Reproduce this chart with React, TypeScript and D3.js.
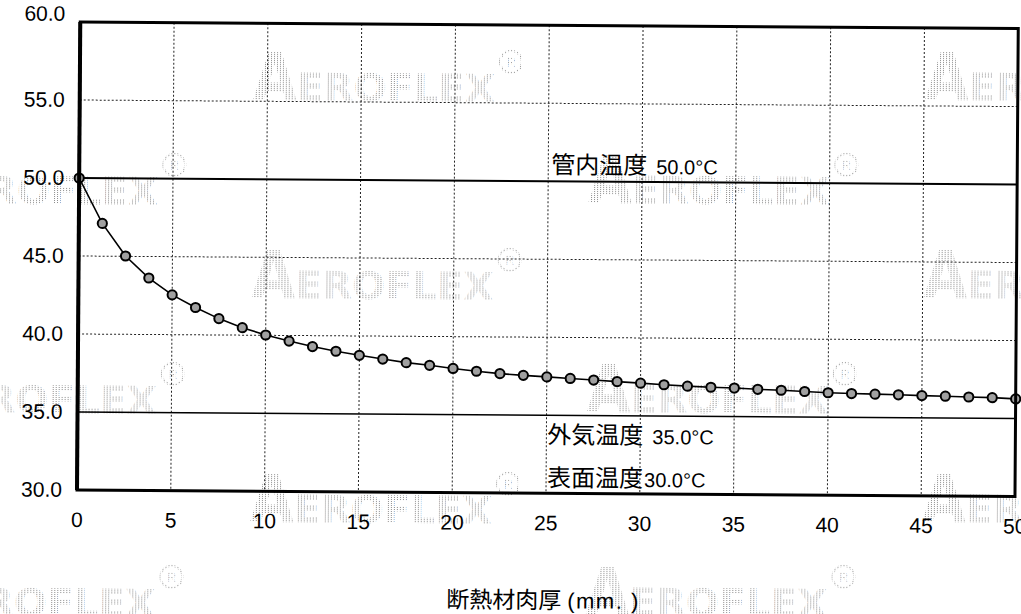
import React from 'react';
import * as d3 from 'd3';

// Insulation thickness (mm) and the temperature computed at each thickness (°C)
const thickness = [
  0, 1.25, 2.5, 3.75, 5, 6.25, 7.5, 8.75, 10, 11.25, 12.5, 13.75, 15, 16.25, 17.5, 18.75,
  20, 21.25, 22.5, 23.75, 25, 26.25, 27.5, 28.75, 30, 31.25, 32.5, 33.75, 35, 36.25, 37.5,
  38.75, 40, 41.25, 42.5, 43.75, 45, 46.25, 47.5, 48.75, 50,
];
const temperature = [
  50.0, 47.1, 45.02, 43.62, 42.55, 41.75, 41.05, 40.48, 40.02, 39.64, 39.3, 39.01, 38.76,
  38.53, 38.31, 38.15, 37.96, 37.79, 37.65, 37.55, 37.46, 37.37, 37.28, 37.19, 37.1, 37.01,
  36.93, 36.87, 36.83, 36.76, 36.71, 36.64, 36.57, 36.53, 36.5, 36.47, 36.43, 36.4, 36.36,
  36.33, 36.26,
];

const xTicks = [0, 5, 10, 15, 20, 25, 30, 35, 40, 45, 50];
const yTicks = [30, 35, 40, 45, 50, 55, 60];
const xGrid = [5, 10, 15, 20, 25, 30, 35, 40, 45];
const yGrid = [40, 45, 55];

const pipeTemp = { name: '管内温度', value: 50.0 };
const airTemp = { name: '外気温度', value: 35.0 };
const surfaceTemp = { name: '表面温度', value: 30.0 };
const xTitle = '断熱材肉厚';
const xUnit = '(mm. )';
const brand = 'EROFLEX';

const W = 1021;
const H = 614;
const plot = { left: 77, right: 1015, top: 22, bottom: 490 };

const LATIN = '"Liberation Sans", Arial, sans-serif';
const CJK = '"Noto Sans CJK JP", "Noto Sans", sans-serif';

function Watermark({ x, y }: { x: number; y: number }) {
  return (
    <g transform={`translate(${x},${y})`} fill="url(#dots)">
      <text x={0} y={0} fontFamily='"DejaVu Sans", sans-serif' fontWeight="bold" fontSize={66}
        textLength={44} lengthAdjust="spacingAndGlyphs">A</text>
      <text x={44} y={0} fontFamily='"DejaVu Sans", sans-serif' fontWeight="bold" fontSize={38}
        textLength={198} lengthAdjust="spacingAndGlyphs">{brand}</text>
      <circle cx={258} cy={-40} r={11} fill="none" stroke="url(#dots)" strokeWidth={2} />
      <text x={258} y={-35} textAnchor="middle" fontFamily={LATIN} fontSize={13}>R</text>
    </g>
  );
}

export default function App() {
  const x = d3.scaleLinear().domain([0, 50]).range([plot.left, plot.right]);
  const y = d3.scaleLinear().domain([30, 60]).range([plot.bottom, plot.top]);

  const points = thickness.map((t, i) => [t, temperature[i]] as [number, number]);
  const line = d3.line<[number, number]>().x((d) => x(d[0])).y((d) => y(d[1]));

  // background brand mark, laid out on a staggered grid
  const marks: { x: number; y: number }[] = [];
  const colStep = 336;
  [[100, 298, 522], [203, 412, 615]].forEach((rows, k) => {
    rows.forEach((ry) => {
      for (let c = 0; c < 3; c++) {
        const mx = (k === 0 ? 250 : -86) + c * 2 * colStep;
        if (mx < W) marks.push({ x: mx, y: ry - (mx - plot.left) * 0.007 });
      }
    });
  });

  const labelX = x(25) + 1;

  return (
    <svg width={W} height={H} viewBox={`0 0 ${W} ${H}`}
      style={{ position: 'absolute', left: 0, top: 0, display: 'block', background: '#fff' }}>
      <defs>
        <pattern id="dots" width={3} height={2} patternUnits="userSpaceOnUse">
          <rect width={1} height={1} fill="#8c8c8c" />
        </pattern>
      </defs>
      <g transform={`rotate(0.4 ${plot.left} ${plot.bottom})`}>
        {marks.map((m, i) => <Watermark key={i} x={m.x} y={m.y} />)}

        {/* dotted grid */}
        {xGrid.map((v) => (
          <line key={`gx${v}`} x1={x(v)} x2={x(v)} y1={plot.top} y2={plot.bottom}
            stroke="#222" strokeWidth={1} strokeDasharray="2,2" />
        ))}
        {yGrid.map((v) => (
          <line key={`gy${v}`} x1={plot.left} x2={plot.right} y1={y(v)} y2={y(v)}
            stroke="#222" strokeWidth={1} strokeDasharray="2,2" />
        ))}

        {/* reference temperatures */}
        <line x1={plot.left} x2={plot.right} y1={y(pipeTemp.value)} y2={y(pipeTemp.value)}
          stroke="#000" strokeWidth={2} />
        <line x1={plot.left} x2={plot.right} y1={y(airTemp.value)} y2={y(airTemp.value)}
          stroke="#000" strokeWidth={1.5} />

        <text x={labelX + 2} y={y(pipeTemp.value) - 8} fill="#000">
          <tspan fontFamily={CJK} fontSize={24}>{pipeTemp.name}</tspan>
          <tspan dx={9} fontFamily={LATIN} fontSize={20}>{`${pipeTemp.value.toFixed(1)}°C`}</tspan>
        </text>
        <text x={labelX} y={y(airTemp.value) + 28} fill="#000">
          <tspan fontFamily={CJK} fontSize={24}>{airTemp.name}</tspan>
          <tspan dx={9} fontFamily={LATIN} fontSize={20}>{`${airTemp.value.toFixed(1)}°C`}</tspan>
        </text>
        <text x={labelX} y={y(surfaceTemp.value) - 7} fill="#000">
          <tspan fontFamily={CJK} fontSize={24}>{surfaceTemp.name}</tspan>
          <tspan dx={1} fontFamily={LATIN} fontSize={20}>{`${surfaceTemp.value.toFixed(1)}°C`}</tspan>
        </text>

        {/* temperature profile */}
        <path d={line(points) ?? ''} fill="none" stroke="#000" strokeWidth={1.6} />
        {points.map((p, i) => (
          <circle key={i} cx={x(p[0])} cy={y(p[1])} r={4.6} fill="#a0a0a0" stroke="#000" strokeWidth={2} />
        ))}

        {/* frame */}
        <rect x={plot.left} y={plot.top} width={plot.right - plot.left} height={plot.bottom - plot.top}
          fill="none" stroke="#000" strokeWidth={3} />
        <line x1={plot.left} x2={plot.left} y1={plot.top} y2={plot.bottom} stroke="#000" strokeWidth={4} />

        {/* axis labels */}
        {yTicks.map((v, i) => (
          <text key={`yl${v}`} x={plot.left - 15} y={i === yTicks.length - 1 ? y(v) - 1 : y(v) + 7}
            textAnchor="end" fontFamily={LATIN} fontSize={21} fill="#000">{v.toFixed(1)}</text>
        ))}
        {xTicks.map((v) => (
          <text key={`xl${v}`} x={x(v)} y={527} textAnchor="middle" fontFamily={LATIN}
            fontSize={21} fill="#000">{v}</text>
        ))}
        <text x={447} y={605} fill="#000">
          <tspan fontFamily={CJK} fontSize={23}>{xTitle}</tspan>
          <tspan dx={6} fontFamily={LATIN} fontSize={22} letterSpacing={1.5}>{xUnit}</tspan>
        </text>
      </g>
    </svg>
  );
}
